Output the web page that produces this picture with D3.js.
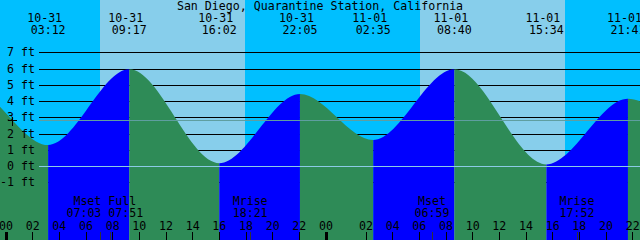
<!DOCTYPE html>
<html>
<head>
<meta charset="utf-8">
<script src="https://cdn.jsdelivr.net/npm/d3@7"></script>
<style>
html,body{margin:0;padding:0;background:#fff;}
svg{display:block;}
text{font-family:"DejaVu Sans Mono",monospace;font-size:11.6px;fill:#000;}
</style>
</head>
<body>
<div id="chart"></div>
<script>
var title="San Diego, Quarantine Station, California";
// tide extremes (local time), first/last two are off the picture
var tideTimes=["10-30 15:25","10-30 21:25","10-31 03:12","10-31 09:17","10-31 16:02","10-31 22:05","11-01 02:35","11-01 08:40","11-01 15:34","11-01 21:41","11-02 03:05","11-02 09:10"];
var tideHeights=[0.3,4.75,1.29,5.95,0.17,4.43,1.6,5.95,0.1,4.14,2.0,5.8];
var sunTimes=["10-31 07:05","10-31 17:58","11-01 06:06","11-01 16:57"];
var moonNames=["Mset","Full","Mrise","Mset","Mrise"];
var moonTimes=["10-31 07:03","10-31 07:51","10-31 18:21","11-01 06:59","11-01 17:52"];
var days=["10-31","11-01"];
var hourLabels=["00","02","04","06","08","10","12","14","16","18","20","22"];
var levels=[-1,0,1,2,3,4,5,6,7];
var meanLevel=2.83;

var W=640,H=240;
var colors={night:"#00bfff",day:"#87ceeb",flood:"#0000ff",ebb:"#2e8b57",datum:"#8ccbe6",mean:"#5f9ea0"};

// 2020: clocks fall back at 02:00 on 11-01
function toDate(s){
    var md=s.split(" ")[0],hm=s.split(" ")[1],h=+hm.slice(0,2);
    var off=(md<"11-01"||(md==="11-01"&&h<2))?"-07:00":"-08:00";
    return new Date("2020-"+md+"T"+hm+":00"+off);
}
var hour=3600*1000;
var start=new Date(toDate("10-31 00:00").getTime()-5.5/(W/48)*hour);
var end=new Date(start.getTime()+48*hour);

var x=d3.scaleTime().domain([start,end]).range([0,W]);
var y=d3.scaleLinear().domain([0,7]).range([166,52.25]);

var svg=d3.select("#chart").append("svg").attr("width",W).attr("height",H);

// day / night background
var bounds=[start].concat(sunTimes.map(toDate)).concat([end]);
var bands=[];
for(var i=0;i<bounds.length-1;i++){bands.push({a:bounds[i],b:bounds[i+1],night:i%2===0});}
svg.append("g").selectAll("rect").data(bands).enter().append("rect")
    .attr("x",function(d){return Math.round(x(d.a))})
    .attr("width",function(d){return Math.round(x(d.b))-Math.round(x(d.a))})
    .attr("y",0).attr("height",H)
    .attr("fill",function(d){return d.night?colors.night:colors.day});

// foot lines (behind the water)
svg.append("g").selectAll("line").data(levels.filter(function(l){return l!==0})).enter().append("line")
    .attr("x1",39).attr("x2",W)
    .attr("y1",function(d){return Math.round(y(d))+0.5}).attr("y2",function(d){return Math.round(y(d))+0.5})
    .attr("stroke","#000").attr("stroke-width",1).attr("shape-rendering","crispEdges");

// water
var tide=tideTimes.map(function(t,i){return {t:toDate(t),h:tideHeights[i],label:t}});
var area=d3.area().x(function(d){return x(d.t)}).y0(H).y1(function(d){return y(d.h)}).curve(d3.curveMonotoneX);
svg.append("defs").append("clipPath").attr("id","waterclip").append("path").attr("d",area(tide));
var spans=[];
for(var i=0;i<tide.length-1;i++){spans.push({a:tide[i],b:tide[i+1]});}
svg.append("g").attr("clip-path","url(#waterclip)").selectAll("rect").data(spans).enter().append("rect")
    .attr("x",function(d){return x(d.a.t)})
    .attr("width",function(d){return x(d.b.t)-x(d.a.t)})
    .attr("y",0).attr("height",H)
    .attr("fill",function(d){return d.b.h>d.a.h?colors.flood:colors.ebb});

// datum and mean lines
svg.append("line").attr("x1",39).attr("x2",W).attr("y1",Math.round(y(0))+0.5).attr("y2",Math.round(y(0))+0.5)
    .attr("stroke",colors.datum).attr("shape-rendering","crispEdges");
svg.append("line").attr("x1",39).attr("x2",W).attr("y1",Math.round(y(meanLevel))+0.5).attr("y2",Math.round(y(meanLevel))+0.5)
    .attr("stroke",colors.mean).attr("shape-rendering","crispEdges");

// y labels
svg.append("g").selectAll("text").data(levels).enter().append("text")
    .attr("x",35).attr("y",function(d){return Math.round(y(d))+4})
    .attr("text-anchor","end").text(function(d){return d+" ft"});
var my=Math.round(y(meanLevel))+0.5;
svg.append("path").attr("d","M8,"+my+"H17M12.5,"+(my-4)+"V"+(my+5)).attr("stroke","#000").attr("shape-rendering","crispEdges");

// title
svg.append("text").attr("x",W/2).attr("y",9.5).attr("text-anchor","middle").text(title);

// tide labels at top
var shown=tide.filter(function(d){var px=x(d.t);return px>-20&&px<W+20});
var tl=svg.append("g").selectAll("g").data(shown).enter().append("g");
tl.append("text").attr("x",function(d){return x(d.t)-3.5}).attr("y",22).attr("text-anchor","middle")
    .text(function(d){return d.label.split(" ")[0]});
tl.append("text").attr("x",function(d){return x(d.t)}).attr("y",34).attr("text-anchor","middle")
    .text(function(d){return d.label.split(" ")[1]});

// moon events, close ones share a label
var moon=moonTimes.map(function(t,i){return {t:toDate(t),name:moonNames[i],time:t.split(" ")[1]}});
var groups=[];
moon.forEach(function(m){
    var last=groups[groups.length-1];
    if(last&&x(m.t)-x(last.items[last.items.length-1].t)<25){last.items.push(m);}
    else{groups.push({items:[m]});}
});
var mg=svg.append("g").selectAll("g").data(groups).enter().append("g");
function gx(d){return d3.mean(d.items,function(m){return x(m.t)})}
mg.append("text").attr("x",gx).attr("y",205).attr("text-anchor","middle")
    .text(function(d){return d.items.map(function(m){return m.name}).join(" ")});
mg.append("text").attr("x",gx).attr("y",217).attr("text-anchor","middle")
    .text(function(d){return d.items.map(function(m){return m.time}).join(" ")});
svg.append("g").selectAll("line").data(moon).enter().append("line")
    .attr("x1",function(d){return Math.round(x(d.t))+0.5}).attr("x2",function(d){return Math.round(x(d.t))+0.5})
    .attr("y1",232).attr("y2",H).attr("stroke","#333").attr("shape-rendering","crispEdges");

// hour axis
var tickDates=[],tickText=[];
days.forEach(function(day){
    hourLabels.forEach(function(h){tickDates.push(toDate(day+" "+h+":00"));tickText.push(h);});
});
var axis=d3.axisBottom(x).tickValues(tickDates).tickFormat(function(d,i){return tickText[i]}).tickSize(8).tickPadding(0);
var ag=svg.append("g").attr("transform","translate(0,232)").call(axis);
ag.attr("font-family",null).attr("font-size",null);
ag.select(".domain").remove();
ag.selectAll(".tick line").attr("stroke","#000").attr("shape-rendering","crispEdges")
    .attr("stroke-width",function(d,i){return tickText[i]==="00"?3:1});
ag.selectAll(".tick text").attr("y",-2).attr("dy",0).attr("fill","#000");
</script>
</body>
</html>
